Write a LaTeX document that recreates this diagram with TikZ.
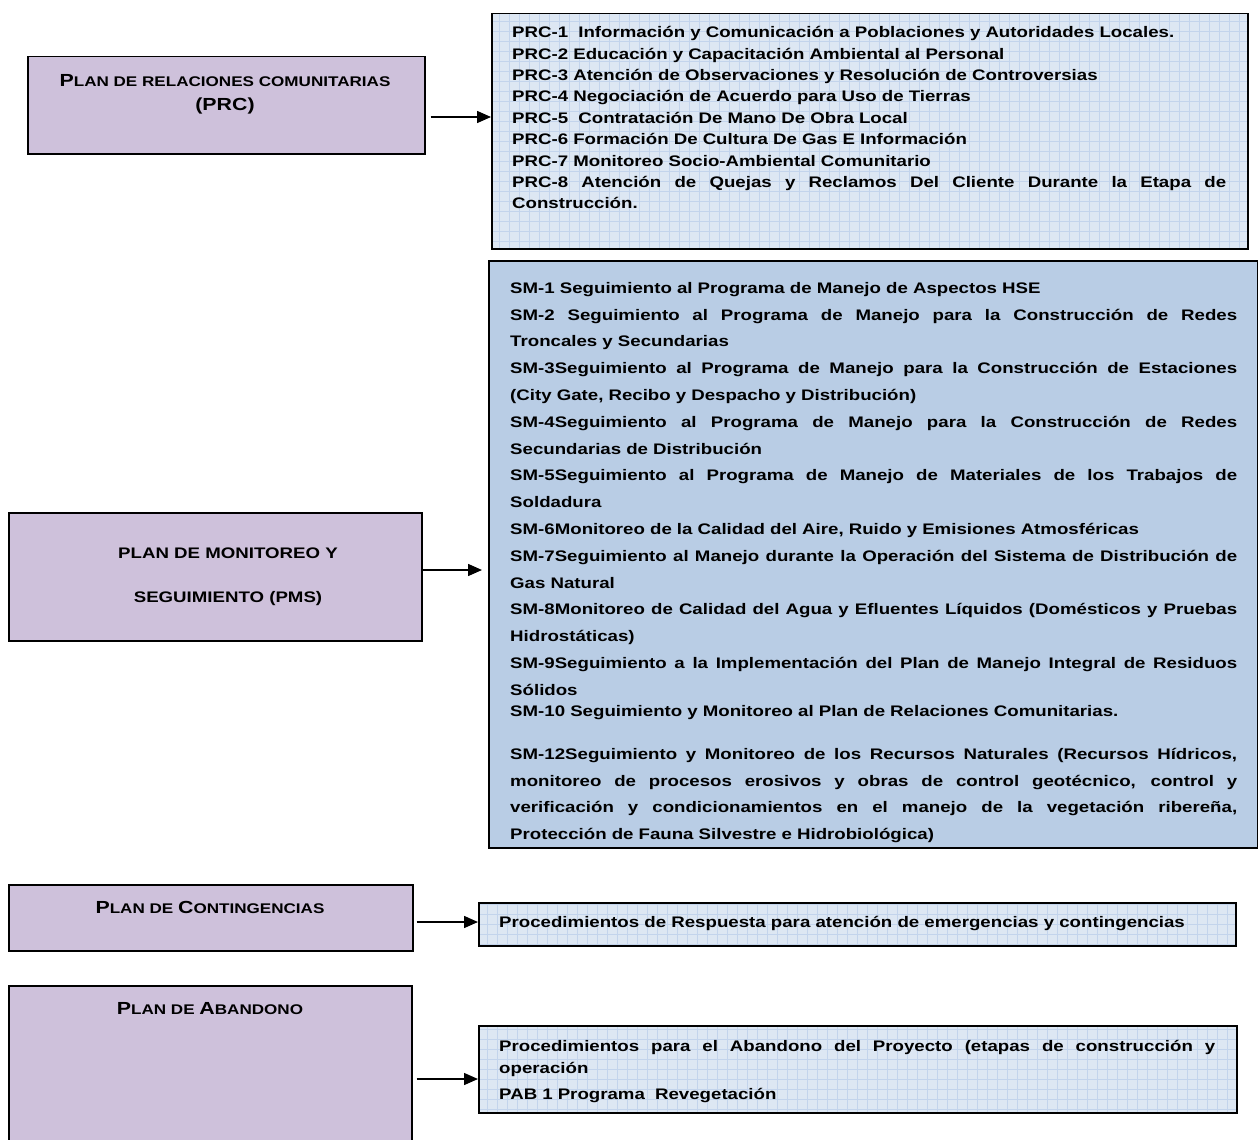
\documentclass[tikz,border=0pt]{standalone}
\usepackage{fontspec}
\setmainfont{Liberation Sans}[FakeStretch=1.22]
\usetikzlibrary{arrows.meta,shadows}

\definecolor{lav}{RGB}{206,193,219}
\definecolor{pmsblue}{RGB}{185,205,229}
\definecolor{gridbg}{RGB}{221,231,243}
\definecolor{gridln}{RGB}{195,212,236}

% fake small caps used in the plan headings
\newcommand\capbig[1]{{\fontsize{17.5}{20}\selectfont #1}}
\newcommand\capsml[1]{{\fontsize{14}{20}\selectfont #1}}
% one fully justified line of a given width (word spaces allowed to stretch)
\newcommand\jline[2]{\makebox[#1][s]{\spaceskip=0pt\xspaceskip=0pt\relax #2}}

\tikzset{
  boxshadow/.style={drop shadow={shadow xshift=1.6pt, shadow yshift=-1.6pt,
      fill=black!55, opacity=1}},
  planbox/.style={draw=black, line width=1.5pt, fill=lav, boxshadow,
      anchor=north west, inner sep=0pt},
  gridbox/.style={draw=black, line width=1.5pt, fill=gridbg, boxshadow,
      anchor=north west, inner sep=0pt,
      path picture={\draw[gridln, line width=1pt]
        (path picture bounding box.south west) grid[step=10pt]
        (path picture bounding box.north east);}},
  solidbox/.style={draw=black, line width=1.5pt, fill=pmsblue, boxshadow,
      anchor=north west, inner sep=0pt},
  heading/.style={anchor=north, inner sep=0pt, align=center,
      font=\bfseries\fontsize{17.5}{24}\selectfont},
  items/.style={anchor=north west, inner sep=0pt, text width=800pt,
      align=left},
  link/.style={line width=1.5pt, -{Triangle[length=14pt,width=12pt]}},
}

\begin{document}
\begin{tikzpicture}[x=1pt, y=-1pt]
\useasboundingbox (0,0) rectangle (1258,1140);

% ---- left column: the four plans
\node[planbox, minimum width=397pt, minimum height=97pt]  (prc) at (27,56) {};
\node[planbox, minimum width=413pt, minimum height=128pt] (pms) at (8,512) {};
\node[planbox, minimum width=404pt, minimum height=66pt]  (con) at (8,884) {};
\node[planbox, minimum width=403pt, minimum height=170pt] (aba) at (8,985) {};

% ---- right column: programme lists
\node[gridbox,  minimum width=756pt, minimum height=235pt] (prcList) at (491,13) {};
\node[solidbox, minimum width=769pt, minimum height=587pt] (pmsList) at (488,260) {};
\node[gridbox,  minimum width=757pt, minimum height=43pt]  (conList) at (478,902) {};
\node[gridbox,  minimum width=758pt, minimum height=87pt]  (abaList) at (478,1025) {};

% ---- plan headings
\node[heading] (prcHead) at (225,69)
  {\rule{0pt}{17pt}\capbig{P}\capsml{LAN DE RELACIONES COMUNITARIAS}\\(PRC)};
\node[heading, font=\bfseries\fontsize{15.3}{44}\selectfont] (pmsHead) at (228,542)
  {\rule{0pt}{16pt}PLAN DE MONITOREO Y\\SEGUIMIENTO (PMS)};
\node[heading] (conHead) at (210,896)
  {\rule{0pt}{17pt}\capbig{P}\capsml{LAN DE }\capbig{C}\capsml{ONTINGENCIAS}};
\node[heading] (abaHead) at (210,997)
  {\rule{0pt}{17pt}\capbig{P}\capsml{LAN DE }\capbig{A}\capsml{BANDONO}};

% ---- community relations programmes
\node[items, font=\bfseries\fontsize{15.3}{21.4}\selectfont] (prcText) at (512,21.5) {%
\rule{0pt}{16pt}PRC-1\ \ Información y Comunicación a Poblaciones y Autoridades Locales.\\
PRC-2 Educación y Capacitación Ambiental al Personal\\
PRC-3 Atención de Observaciones y Resolución de Controversias\\
PRC-4 Negociación de Acuerdo para Uso de Tierras\\
PRC-5\ \ Contratación De Mano De Obra Local\\
PRC-6 Formación De Cultura De Gas E Información\\
PRC-7 Monitoreo Socio-Ambiental Comunitario\\
\jline{714pt}{PRC-8 Atención de Quejas y Reclamos Del Cliente Durante la Etapa de}\\
Construcción.};

% ---- monitoring programmes (clipped by their box)
\begin{scope}
\clip (pmsList.north west) rectangle (pmsList.south east);
\node[items, font=\bfseries\fontsize{15.3}{26.8}\selectfont] (pmsText) at (510,277) {%
\rule{0pt}{16pt}SM-1 Seguimiento al Programa de Manejo de Aspectos HSE\\
\jline{727pt}{SM-2 Seguimiento al Programa de Manejo para la Construcción de Redes}\\
Troncales y Secundarias\\
\jline{727pt}{SM-3Seguimiento al Programa de Manejo para la Construcción de Estaciones}\\
(City Gate, Recibo y Despacho y Distribución)\\
\jline{727pt}{SM-4Seguimiento al Programa de Manejo para la Construcción de Redes}\\
Secundarias de Distribución\\
\jline{727pt}{SM-5Seguimiento al Programa de Manejo de Materiales de los Trabajos de}\\
Soldadura\\
SM-6Monitoreo de la Calidad del Aire, Ruido y Emisiones Atmosféricas\\
\jline{727pt}{SM-7Seguimiento al Manejo durante la Operación del Sistema de Distribución de}\\
Gas Natural\\
\jline{727pt}{SM-8Monitoreo de Calidad del Agua y Efluentes Líquidos (Domésticos y Pruebas}\\
Hidrostáticas)\\
\jline{727pt}{SM-9Seguimiento a la Implementación del Plan de Manejo Integral de Residuos}\\
Sólidos\\[-5.8pt]
SM-10 Seguimiento y Monitoreo al Plan de Relaciones Comunitarias.\\[16.2pt]
\jline{727pt}{SM-12Seguimiento y Monitoreo de los Recursos Naturales (Recursos Hídricos,}\\
\jline{727pt}{monitoreo de procesos erosivos y obras de control geotécnico, control y}\\
\jline{727pt}{verificación y condicionamientos en el manejo de la vegetación ribereña,}\\
Protección de Fauna Silvestre e Hidrobiológica)};
\end{scope}

% ---- contingency and abandonment procedures
\node[anchor=base west, inner sep=0pt, font=\bfseries\fontsize{15.3}{21}\selectfont]
  (conText) at (499,927)
  {Procedimientos de Respuesta para atención de emergencias y contingencias};
\node[items, font=\bfseries\fontsize{15.3}{22}\selectfont] (abaText) at (499,1035) {%
\rule{0pt}{16pt}\jline{716pt}{Procedimientos para el Abandono del Proyecto (etapas de construcción y}\\
operación\\[4pt]
PAB 1 Programa\ \ Revegetación};

% ---- connectors
\coordinate (y1) at (0,117);
\coordinate (y2) at (0,570);
\coordinate (y3) at (0,922);
\coordinate (y4) at (0,1079);
\draw[link, shorten <=5pt] (prc.east |- y1) -- (prcList.west |- y1);
\draw[link, shorten >=6pt] (pms.east |- y2) -- (pmsList.west |- y2);
\draw[link, shorten <=3pt] (con.east |- y3) -- (conList.west |- y3);
\draw[link, shorten <=4pt] (aba.east |- y4) -- (abaList.west |- y4);
\end{tikzpicture}
\end{document}
